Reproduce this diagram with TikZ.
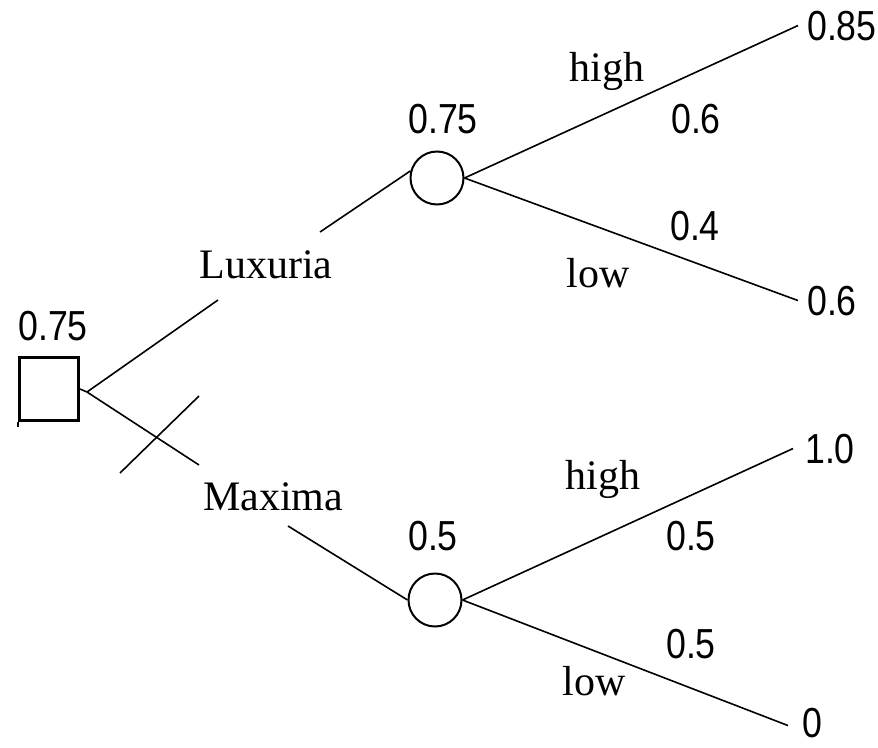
\documentclass[tikz,border=0pt]{standalone}
\usepackage{fontspec}
\setmainfont{Liberation Serif}
\newfontfamily\numfont[FakeStretch=0.85]{Liberation Sans}
\begin{document}
\begin{tikzpicture}[x=1pt,y=-1pt,
  branch/.style={line width=1.6pt},
  decision/.style={draw,line width=3pt,minimum width=59pt,minimum height=63pt,inner sep=0pt},
  chance/.style={draw,circle,line width=2pt,minimum size=53pt,inner sep=0pt},
  word/.style={font=\fontsize{42}{50}\selectfont,inner sep=0pt,anchor=base},
  num/.style={font=\numfont\fontsize{42}{50}\selectfont,inner sep=0pt,anchor=base},
  payoff/.style={font=\numfont\fontsize{42}{50}\selectfont,inner sep=0pt,anchor=base west}]
\useasboundingbox (0,0) rectangle (878,747);

% decision node and its value
\node[decision] (dec) at (49,389) {};
\node[num] (decv) at (53,340) {0.75};
\draw[line width=2pt] (dec.south west) -- ++(0,5);

% chance nodes and their values
\node[chance] (c1) at (437,178) {};
\node[num] (c1v) at (443,133) {0.75};
\node[chance] (c2) at (435,600) {};
\node[num] (c2v) at (433,550) {0.5};

% alternative labels
\node[word] (lux) at (266,278) {Luxuria};
\node[word] (max) at (273,510) {Maxima};

% payoffs
\node[payoff] (t1) at (807,40) {0.85};
\node[payoff] (t2) at (807,315) {0.6};
\node[payoff] (t3) at (805,463) {1.0};
\node[payoff] (t4) at (802,737) {0};

% outcome labels and probabilities
\node[word] (h1) at (607,81) {high};
\node[num] (p1) at (696,133) {0.6};
\node[num] (p2) at (695,240) {0.4};
\node[word] (l1) at (598,287) {low};
\node[word] (h2) at (603,489) {high};
\node[num] (p3) at (691,550) {0.5};
\node[num] (p4) at (691,658) {0.5};
\node[word] (l2) at (594,695) {low};

% decision branches
\coordinate (fork) at (87,392);
\coordinate (luxa) at (218,300);
\coordinate (luxb) at (320,232);
\coordinate (maxa) at (199,465);
\coordinate (maxb) at (288,526);
\draw[branch] (dec.east) -- (fork);
\draw[branch] (fork) -- (luxa);
\draw[branch] (luxb) -- (c1.165);
\draw[branch] (fork) -- (maxa);
\draw[branch] (maxb) -- (c2.west);

% rejected alternative is struck through
\coordinate (xa) at (120,473);
\coordinate (xb) at (199,396);
\draw[branch] (xa) -- (xb);

% chance branches
\draw[branch] (c1.east) -- ([xshift=-9pt]t1.west);
\draw[branch] (c1.east) -- ([xshift=-9pt]t2.west);
\draw[branch] (c2.east) -- ([xshift=-12pt]t3.west);
\draw[branch] (c2.east) -- ([xshift=-14pt,yshift=-3pt]t4.west);
\end{tikzpicture}
\end{document}
